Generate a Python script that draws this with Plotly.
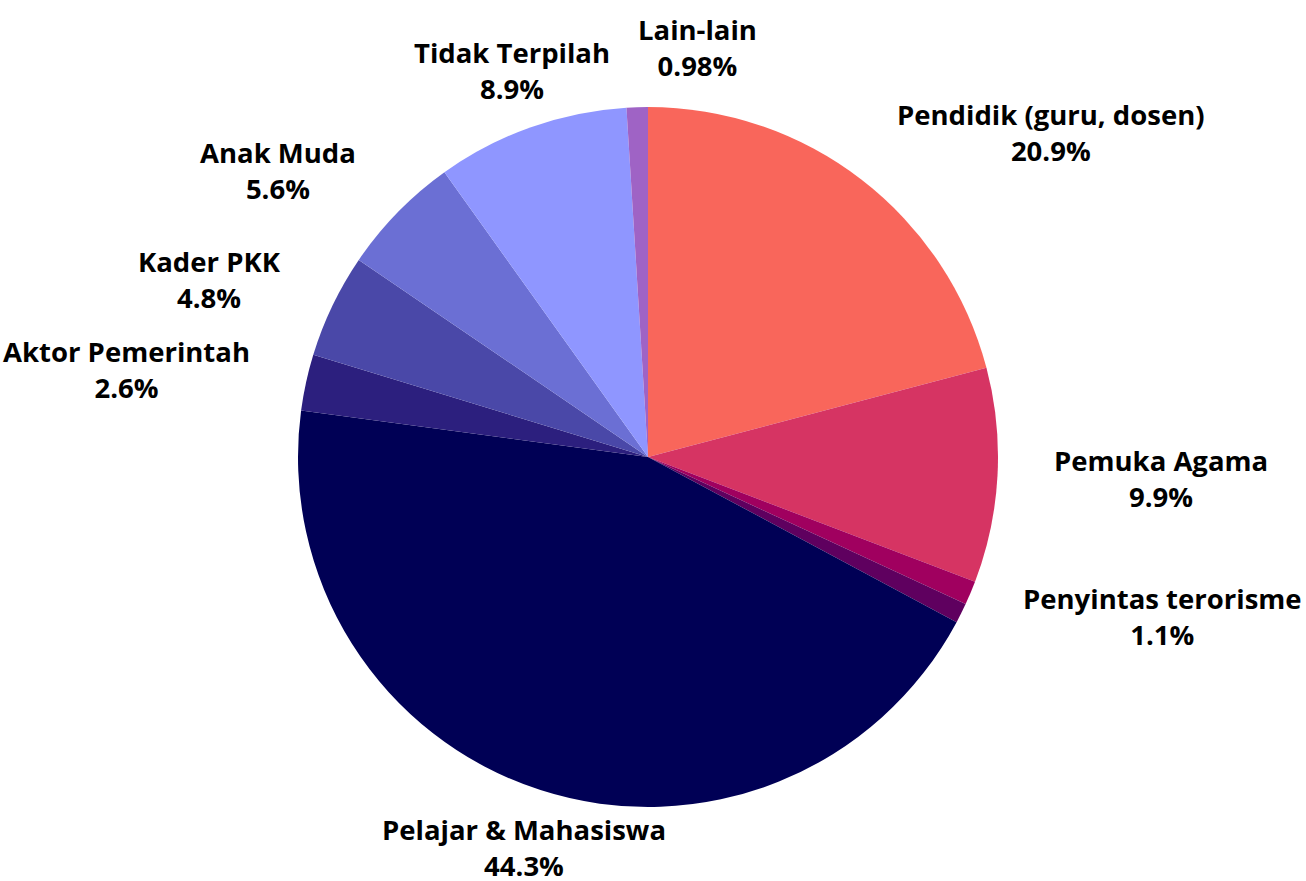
import math
import plotly.graph_objects as go

labels = ["Pendidik (guru, dosen)", "Pemuka Agama", "Penyintas terorisme", "Lainnya (tanpa label)",
          "Pelajar & Mahasiswa", "Aktor Pemerintah", "Kader PKK", "Anak Muda", "Tidak Terpilah", "Lain-lain"]
values = [20.9, 9.9, 1.1, 0.92, 44.3, 2.6, 4.8, 5.6, 8.9, 0.98]
colors = ["#F9665B", "#D63463", "#A0005F", "#5F005F", "#000055",
          "#2C1F7E", "#4A48A8", "#6B6FD4", "#8F96FF", "#9F63C5"]
show_label = [True, True, True, False, True, True, True, True, True, True]

W, H = 1306, 881
M = dict(l=0, r=10, t=107, b=74)
plot_w = W - M["l"] - M["r"]
plot_h = H - M["t"] - M["b"]
radius_px = min(plot_w, plot_h) / 2
label_r_px = radius_px + 20
FONT = dict(family="Open Sans", size=27.5, color="#000000", weight="bold")

fig = go.Figure(go.Pie(
    labels=labels,
    values=values,
    sort=False,
    direction="clockwise",
    rotation=0,
    automargin=False,
    marker=dict(colors=colors, line=dict(width=0)),
    textinfo="none",
    showlegend=False,
))

# outside labels, placed from each slice's mid-angle
total = sum(values)
cum = 0.0
for lab, v, show in zip(labels, values, show_label):
    mid = (cum + v / 2) / total * 2 * math.pi
    cum += v
    if not show:
        continue
    ux, uy = math.sin(mid), math.cos(mid)  # uy: upward component
    x = 0.5 + ux * label_r_px / plot_w
    y = 0.5 + uy * label_r_px / plot_h
    if ux > 0.5 or abs(ux) < 0.1:
        xanchor = "left"
    elif ux < -0.5:
        xanchor = "right"
    else:
        xanchor = "center"
    pct = f"{v / total * 100:.3g}%"
    fig.add_annotation(
        x=x, y=y, xref="paper", yref="paper",
        text=f"{lab}<br>{pct}", showarrow=False,
        xanchor=xanchor, yanchor="middle", align="center",
        xshift=ux * 35, yshift=uy * 40,
        font=FONT,
    )

fig.update_layout(
    width=W, height=H,
    margin=dict(**M, autoexpand=False),
    paper_bgcolor="white",
)
fig.write_html("out.html")
